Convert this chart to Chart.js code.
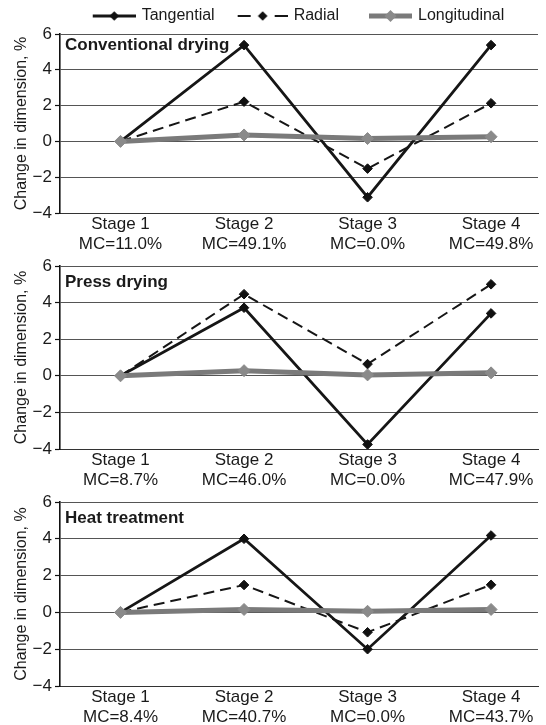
<!DOCTYPE html>
<html><head><meta charset="utf-8">
<script src="https://cdn.jsdelivr.net/npm/chart.js@4.4.1/dist/chart.umd.min.js"></script>
<style>
html,body{margin:0;padding:0;background:#fff;overflow:hidden;width:546px;height:725px;}
.panel{position:absolute;left:0;width:546px;}
</style></head><body>
<div class="panel" style="top:0;height:252px"><canvas id="c1" width="546" height="252"></canvas></div>
<div class="panel" style="top:250px;height:238px"><canvas id="c2" width="546" height="238"></canvas></div>
<div class="panel" style="top:488px;height:237px"><canvas id="c3" width="546" height="237"></canvas></div>
<script>
// ---- data ----
const stages = ['Stage 1', 'Stage 2', 'Stage 3', 'Stage 4'];
const seriesNames = ['Tangential', 'Radial', 'Longitudinal'];
const yTickValues = [-4, -2, 0, 2, 4, 6];
const panelTitles = ['Conventional drying', 'Press drying', 'Heat treatment'];
const yAxisTitle = 'Change in dimension, %';

const convMC = ['MC=11.0%', 'MC=49.1%', 'MC=0.0%', 'MC=49.8%'];
const convTangential = [0, 5.38, -3.12, 5.38];
const convRadial = [0, 2.22, -1.52, 2.13];
const convLongitudinal = [0, 0.36, 0.16, 0.26];

const pressMC = ['MC=8.7%', 'MC=46.0%', 'MC=0.0%', 'MC=47.9%'];
const pressTangential = [0, 3.72, -3.75, 3.41];
const pressRadial = [0, 4.46, 0.64, 5.0];
const pressLongitudinal = [0, 0.28, 0.05, 0.16];

const heatMC = ['MC=8.4%', 'MC=40.7%', 'MC=0.0%', 'MC=43.7%'];
const heatTangential = [0, 4.0, -2.0, 4.18];
const heatRadial = [0, 1.49, -1.08, 1.5];
const heatLongitudinal = [0, 0.16, 0.06, 0.16];

// ---- styles ----
const FONT = "'Liberation Sans', Arial, sans-serif";
const styles = [
  {color: '#161616', width: 2.8, dash: [], r: 4.8, fill: '#111', symW: 43},
  {color: '#161616', width: 2, dash: [11, 6], r: 4.8, fill: '#111', symW: 50},
  {color: '#7a7a7a', width: 5, dash: [], r: 6, fill: '#8a8a8a', symW: 43}
];
const BOXW = 66;

function makeSymbol(i) {
  const s = styles[i];
  const c = document.createElement('canvas');
  c.width = BOXW + 4; c.height = 16;
  const g = c.getContext('2d');
  const x1 = c.width, x0 = x1 - s.symW, cy = 8, cx = (x0 + x1) / 2;
  g.strokeStyle = s.color; g.lineWidth = s.width;
  if (i === 1) {
    g.beginPath(); g.moveTo(x0, cy); g.lineTo(x0 + 13, cy); g.stroke();
    g.beginPath(); g.moveTo(x1 - 13, cy); g.lineTo(x1, cy); g.stroke();
  } else {
    g.beginPath(); g.moveTo(x0, cy); g.lineTo(x1, cy); g.stroke();
  }
  g.fillStyle = s.fill;
  g.beginPath();
  g.moveTo(cx - s.r, cy); g.lineTo(cx, cy - s.r); g.lineTo(cx + s.r, cy); g.lineTo(cx, cy + s.r);
  g.closePath(); g.fill();
  return c;
}
const symbols = [0, 1, 2].map(makeSymbol);

const fmtY = v => (v < 0 ? '\u2212' + Math.abs(v) : String(v));

const panelTitlePlugin = {
  id: 'panelTitle',
  afterDatasetsDraw(chart, args, opts) {
    const ctx = chart.ctx, a = chart.chartArea;
    ctx.save();
    ctx.font = "bold 17px " + FONT;
    ctx.fillStyle = '#1a1a1a';
    ctx.textBaseline = 'alphabetic';
    ctx.textAlign = 'left';
    ctx.fillText(opts.text, a.left + 5, a.top + opts.offset);
    ctx.restore();
  }
};
const legendShiftPlugin = {
  id: 'legendShift',
  afterLayout(chart, args, opts) {
    if (chart.legend && opts.dx) {
      chart.legend.left += opts.dx;
      chart.legend.right += opts.dx;
    }
  }
};

function buildChart(id, mc, tang, rad, lon, title, titleOffset, showLegend, padTop) {
  const values = [tang, rad, lon];
  const order = [1, 2, 0];
  const datasets = values.map((arr, i) => ({
    label: seriesNames[i],
    data: arr.map((v, k) => ({x: k + 1, y: v})),
    borderColor: styles[i].color,
    borderWidth: styles[i].width,
    borderDash: styles[i].dash,
    pointStyle: 'rectRot',
    pointRadius: styles[i].r,
    pointBackgroundColor: styles[i].fill,
    pointBorderColor: styles[i].fill,
    pointBorderWidth: 1,
    tension: 0,
    fill: false,
    order: order[i]
  }));
  return new Chart(document.getElementById(id), {
    type: 'line',
    data: {datasets},
    plugins: [panelTitlePlugin, legendShiftPlugin],
    options: {
      responsive: false,
      animation: false,
      events: [],
      layout: {padding: {top: padTop, right: 8, bottom: 0, left: 0}},
      plugins: {
        tooltip: {enabled: false},
        panelTitle: {text: title, offset: titleOffset},
        legendShift: {dx: showLegend ? 17 : 0},
        legend: {
          display: showLegend,
          position: 'top',
          labels: {
            usePointStyle: true,
            pointStyleWidth: BOXW,
            padding: 5,
            color: '#1a1a1a',
            font: {family: FONT, size: 16},
            generateLabels: () => seriesNames.map((n, i) => ({
              text: n, pointStyle: symbols[i], fillStyle: 'rgba(0,0,0,0)',
              strokeStyle: 'rgba(0,0,0,0)', lineWidth: 0, hidden: false,
              datasetIndex: i, fontColor: '#1a1a1a'
            }))
          }
        }
      },
      scales: {
        x: {
          type: 'linear',
          min: 0.51,
          max: 4.38,
          afterBuildTicks: s => { s.ticks = stages.map((_, i) => ({value: i + 1})); },
          afterFit: s => { s.height = 39; },
          grid: {display: false, drawTicks: false},
          border: {display: true, color: '#333', width: 1},
          ticks: {
            padding: 1,
            maxRotation: 0,
            autoSkip: false,
            color: '#1a1a1a',
            font: {family: FONT, size: 17},
            callback: v => [stages[v - 1], mc[v - 1]]
          }
        },
        y: {
          min: yTickValues[0],
          max: yTickValues[yTickValues.length - 1],
          afterBuildTicks: s => { s.ticks = yTickValues.map(v => ({value: v})); },
          afterFit: s => { s.width = 60; },
          grid: {color: '#555', lineWidth: 1, drawTicks: true, tickLength: 5, tickColor: '#111', tickWidth: 1.2},
          border: {display: true, color: '#111', width: 1.6},
          ticks: {
            padding: 3,
            color: '#1a1a1a',
            font: {family: FONT, size: 17},
            callback: v => fmtY(v)
          },
          title: {
            display: true,
            text: yAxisTitle,
            color: '#1a1a1a',
            font: {family: FONT, size: 16},
            padding: {top: 12, bottom: 0}
          }
        }
      }
    }
  });
}

buildChart('c1', convMC, convTangential, convRadial, convLongitudinal, panelTitles[0], 16.2, true, 3);
buildChart('c2', pressMC, pressTangential, pressRadial, pressLongitudinal, panelTitles[1], 21, false, 16);
buildChart('c3', heatMC, heatTangential, heatRadial, heatLongitudinal, panelTitles[2], 21, false, 14);
</script>
</body></html>
